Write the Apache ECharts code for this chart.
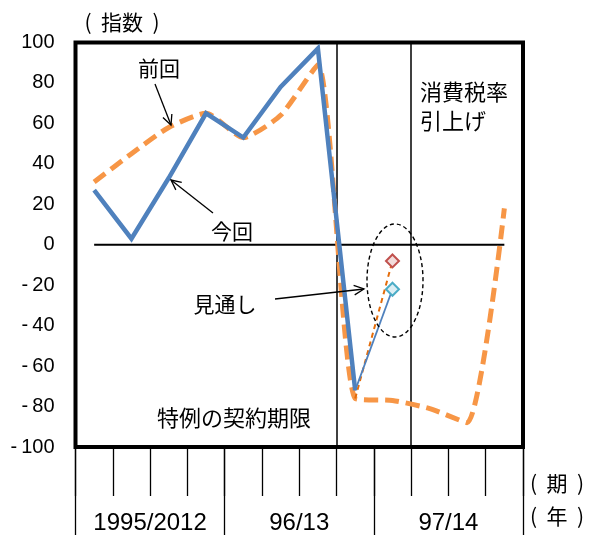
<!DOCTYPE html>
<html>
<head>
<meta charset="utf-8">
<script src="https://cdn.jsdelivr.net/npm/echarts@6/dist/echarts.min.js"></script>
<style>
  html, body { margin: 0; padding: 0; background: #fff; }
  #chart { width: 590px; height: 535px; }
</style>
</head>
<body>
<div id="chart"></div>
<script>
// 12 quarterly periods, grouped into three fiscal years
const periods = ['1','2','3','4','5','6','7','8','9','10','11','12'];
const yearLabels = ['1995/2012', '96/13', '97/14'];

// Index values
const previous = [31, 45, 58, 65, 53, 64, 89, -76, -77, -81, -88, 18];   // 前回
const current = [27, 3, 33, 65, 53, 78, 97, -72];                          // 今回
const outlookCurrent = [null, null, null, null, null, null, null, -72, -22]; // 見通し（今回）
const outlookPrevious = [null, null, null, null, null, null, null, -76, -8]; // 見通し（前回）
const zeroLine = [0, 0, 0, 0, 0, 0, 0, 0, 0, 0, 0, 0];

const yTicks = { min: -100, max: 100, step: 20 };

const BLUE = '#4f81bd';
const ORANGE = '#f79646';
const CJK = '"Noto Sans CJK JP", "Noto Sans CJK SC", sans-serif';
const LATIN = '"Liberation Sans", Arial, sans-serif';

function outlookData(values, lastStyle) {
  return values.map((v, i) => {
    if (v === null) return null;
    if (i === values.length - 1) {
      return { value: v, symbol: 'diamond', symbolSize: [13, 13], itemStyle: lastStyle };
    }
    return { value: v, symbol: 'none' };
  });
}

function arrow(x1, y1, x2, y2, head) {
  const a = Math.atan2(y2 - y1, x2 - x1);
  const s = head || 11, w = 0.45;
  const p1 = [x2 - s * Math.cos(a - w), y2 - s * Math.sin(a - w)];
  const p2 = [x2 - s * Math.cos(a + w), y2 - s * Math.sin(a + w)];
  const style = { stroke: '#000', lineWidth: 1.3, fill: null };
  return [
    { type: 'line', shape: { x1: x1, y1: y1, x2: x2, y2: y2 }, style: style, z: 100 },
    { type: 'polyline', shape: { points: [p1, [x2, y2], p2] }, style: style, z: 100 }
  ];
}

function label(text, x, y, size, align) {
  return {
    type: 'text', x: x, y: y, z: 100,
    style: { text: text, font: size + 'px ' + CJK, fill: '#000',
             align: align || 'center', verticalAlign: 'middle' }
  };
}

const chart = echarts.init(document.getElementById('chart'), null, { renderer: 'canvas' });

chart.setOption({
  animation: false,
  backgroundColor: '#fff',
  grid: {
    left: 75.5, right: 67, top: 42.5, bottom: 86.5,
    show: true, borderColor: '#000', borderWidth: 4, backgroundColor: 'transparent'
  },
  xAxis: [
    {
      type: 'category', data: periods, boundaryGap: true, position: 'bottom',
      axisLine: { show: false, onZero: false },
      axisTick: { show: true, interval: 0, length: 49, lineStyle: { color: '#000', width: 1.3 } },
      axisLabel: { show: false },
      splitLine: {
        show: true,
        interval: (i) => i === 7 || i === 9,
        lineStyle: { color: '#000', width: 1.5 }
      }
    },
    {
      type: 'category', data: yearLabels, boundaryGap: true, position: 'bottom',
      axisLine: { show: false, onZero: false },
      axisTick: { show: true, interval: 0, length: 88, lineStyle: { color: '#000', width: 1.3 } },
      axisLabel: { show: true, interval: 0, margin: 64, color: '#000', fontSize: 24, fontFamily: LATIN },
      splitLine: { show: false }
    }
  ],
  yAxis: {
    type: 'value', min: yTicks.min, max: yTicks.max, interval: yTicks.step,
    axisLine: { show: false }, axisTick: { show: false }, splitLine: { show: false },
    axisLabel: {
      margin: 21, color: '#000', fontSize: 20, fontFamily: LATIN, padding: [3, 0, 0, 0],
      formatter: (v) => v < 0 ? '-\u2009' + Math.abs(v) : String(v)
    }
  },
  series: [
    {
      name: 'zero', type: 'line', data: zeroLine, symbol: 'none', silent: true,
      lineStyle: { color: '#000', width: 1.8 }, z: 1
    },
    {
      name: '前回', type: 'line', data: previous, symbol: 'none', smooth: 0.2,
      lineStyle: { color: ORANGE, width: 5, type: [14, 7], cap: 'butt' }, z: 2
    },
    {
      name: '今回', type: 'line', data: current, symbol: 'none',
      lineStyle: { color: BLUE, width: 4.5, join: 'miter' }, z: 3
    },
    {
      name: '見通し（前回）', type: 'line', data: outlookData(outlookPrevious,
        { color: '#f2dcdb', borderColor: '#c0504d', borderWidth: 2 }),
      lineStyle: { color: '#e46c0a', width: 2, type: [5, 4] }, z: 4
    },
    {
      name: '見通し（今回）', type: 'line', data: outlookData(outlookCurrent,
        { color: '#dbeef4', borderColor: '#4bacc6', borderWidth: 2 }),
      lineStyle: { color: BLUE, width: 1.8 }, z: 5
    }
  ],
  graphic: [
    label('(  指数  )', 122, 22, 21),
    label('(  期  )', 557, 483, 21),
    label('(  年  )', 557, 516, 21),
    label('前回', 159, 68, 21),
    label('今回', 232, 231, 21),
    label('見通し', 225, 304, 21),
    label('特例の契約期限', 234, 418, 22),
    label('消費税率', 420, 92, 22, 'left'),
    label('引上げ', 420, 121, 22, 'left'),
    {
      type: 'ellipse', z: 100,
      shape: { cx: 395, cy: 280.5, rx: 28, ry: 56.5 },
      style: { stroke: '#000', lineWidth: 1.4, fill: null, lineDash: [4, 3] }
    }
  ].concat(arrow(155, 84, 171, 125))
   .concat(arrow(213, 213, 171, 180))
   .concat(arrow(275, 299, 364, 289))
});
</script>
</body>
</html>
